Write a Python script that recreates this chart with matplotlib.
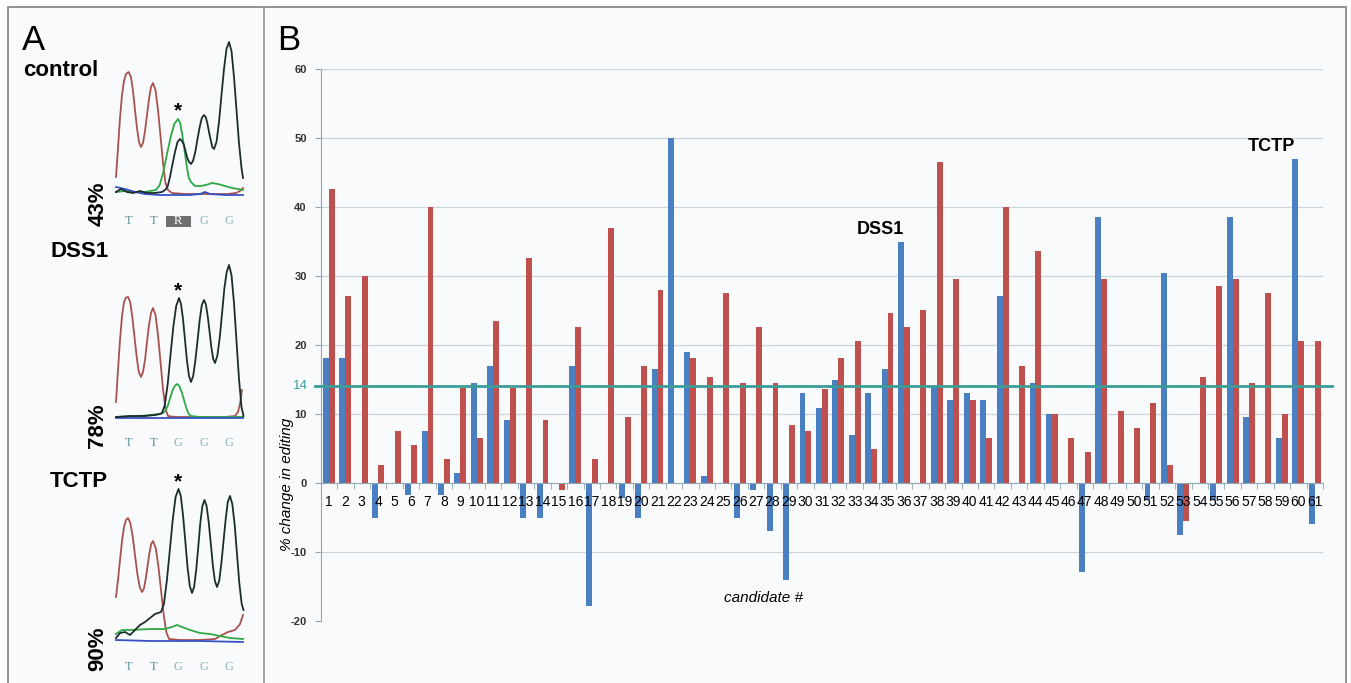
import numpy as np
import matplotlib
matplotlib.use("Agg")
import matplotlib.pyplot as plt
from matplotlib.patches import Rectangle
from matplotlib.transforms import blended_transform_factory

W, H = 1351, 683

# ---- panel B data: % change in editing per candidate (NaN = no bar)
candidates = list(range(1, 62))
blue_vals = [18.1, 18.1, np.nan, -5.0, np.nan, -1.8, 7.5, -1.8, 1.4, 14.5,
             17.0, 9.1, -5.0, -5.0, np.nan, 17.0, -17.8, np.nan, -2.2, -5.0,
             16.5, 50.0, 19.0, 1.0, np.nan, -5.0, -1.0, -7.0, -14.0, 13.0,
             10.9, 14.9, 7.0, 13.0, 16.5, 35.0, np.nan, 14.0, 12.0, 13.0,
             12.0, 27.1, np.nan, 14.5, 10.0, np.nan, -12.9, 38.6, np.nan, np.nan,
             -2.5, 30.5, -7.5, np.nan, -2.5, 38.6, 9.5, np.nan, 6.5, 47.0,
             -5.9]
red_vals = [42.6, 27.1, 30.0, 2.6, 7.5, 5.5, 40.0, 3.5, 13.8, 6.5,
            23.5, 13.8, 32.6, 9.1, -1.0, 22.6, 3.5, 37.0, 9.5, 17.0,
            28.0, np.nan, 18.1, 15.4, 27.5, 14.5, 22.6, 14.5, 8.4, 7.5,
            13.6, 18.1, 20.6, 5.0, 24.6, 22.6, 25.1, 46.5, 29.6, 12.0,
            6.5, 40.0, 17.0, 33.6, 10.0, 6.5, 4.5, 29.6, 10.5, 8.0,
            11.6, 2.6, -5.5, 15.4, 28.5, 29.6, 14.5, 27.5, 10.0, 20.6,
            20.6]
threshold = 14
y_ticks = [-20, -10, 0, 10, 20, 30, 40, 50, 60]
highlight_names = ["DSS1", "TCTP"]
highlight_idx = [36, 60]

# ---- panel A data: chromatogram traces (scan position, signal height)
bases_ctrl = ["T", "T", "R", "G", "G"]
bases_edit = ["T", "T", "G", "G", "G"]
base_scan = [13, 38, 62, 88, 113]

ctrl_red_x = [0, 2, 4, 6, 8, 10, 12.5, 15, 17, 19, 21, 23, 25, 27, 29, 31, 33, 35, 37, 39.5, 42, 44.5, 47, 49.5, 52, 56, 69, 84, 99, 112, 120, 124, 127]
ctrl_red_y = [19, 48, 78, 101, 115, 122, 124, 119, 105, 86, 68, 54, 49, 53, 65, 81, 97, 109, 113, 106, 86, 60, 33, 13, 6, 3, 2, 2, 2, 2, 3, 5, 8]
ctrl_blk_x = [0, 5, 11, 17, 24, 31, 39, 46, 49, 51.5, 54, 56.5, 59, 61.5, 64, 66, 68, 69.5, 71.3, 73, 75, 77, 79.3, 81.5, 83.7, 85.8, 88, 89.7, 91.3, 93, 94.7, 96.3, 98, 100.5, 103, 105.5, 108, 110.5, 113, 115.5, 118, 120.5, 123, 125.5, 127]
ctrl_blk_y = [4, 7, 4, 3, 5, 3, 3, 4, 6, 9, 19, 32, 44, 54, 57, 55, 51, 45, 38, 34, 32, 35, 44, 57, 69, 78, 81, 79, 73, 64, 56, 49, 47, 54, 74, 101, 127, 147, 154, 145, 119, 86, 53, 28, 18]
ctrl_grn_x = [0, 9, 19, 29, 34, 40, 43.7, 47.3, 51, 54.7, 58.3, 62, 64.2, 66.3, 68.5, 70.7, 72.8, 75, 79, 84, 90, 96, 102, 109, 116, 122, 127]
ctrl_grn_y = [4, 5, 4, 4, 5, 6, 11, 24, 42, 59, 72, 77, 73, 61, 46, 30, 18, 14, 10, 10, 11, 13, 12, 10, 8, 7, 6]
ctrl_blu_x = [0, 9, 19, 29, 44, 59, 74, 84, 89, 94, 109, 127]
ctrl_blu_y = [9, 7, 4, 2, 1, 1, 1, 2, 4, 2, 1, 1]

dss_red_x = [0, 2, 4, 6, 8, 10, 12, 14.2, 16.3, 18.5, 20.7, 22.8, 25, 27, 29, 31, 33, 35, 37, 39.5, 42, 44.5, 47, 49.5, 52, 59, 84, 109, 119, 122, 124, 126]
dss_red_y = [16, 48, 78, 102, 116, 120.5, 121, 116, 101, 81, 61, 46, 41, 46, 58, 76, 93, 105, 110, 103, 83, 56, 29, 9, 2, 1, 1, 1, 2, 6, 14, 28]
dss_blk_x = [0, 14, 29, 39, 44, 46, 48.8, 51.7, 54.5, 57.3, 60.2, 63, 65, 67, 69, 71, 73, 75, 77.2, 79.3, 81.5, 83.7, 85.8, 88, 89.8, 91.7, 93.5, 95.3, 97.2, 99, 101.3, 103.7, 106, 108.3, 110.7, 113, 115.5, 118, 120.5, 123, 125.5, 127.5]
dss_blk_y = [1, 2, 2, 3, 4, 5, 13, 34, 63, 91, 112, 120, 114, 99, 78, 57, 42, 36, 42, 57, 77, 98, 113, 118, 114, 102, 87, 71, 59, 55, 62, 80, 104, 129, 146, 153, 143, 115, 77, 39, 11, 2]
dss_grn_x = [0, 24, 44, 47, 49.3, 51.7, 54, 56.3, 58.7, 61, 63.3, 65.7, 68, 70.3, 72.7, 75, 84, 127]
dss_grn_y = [1, 2, 4, 5, 7, 12, 19.5, 27, 32, 34, 32, 26, 18, 10, 4, 2, 1, 1]
dss_blu_x = [0, 127]
dss_blu_y = [0, 0]

tctp_red_x = [0, 2, 4, 6, 8, 10, 12, 14.3, 16.7, 19, 21.3, 23.7, 26, 27.8, 29.7, 31.5, 33.3, 35.2, 37, 39.7, 42.3, 45, 47.7, 50.3, 53, 64, 84, 99, 106, 112, 119, 124, 127]
tctp_red_y = [44, 61, 81, 100, 114, 121, 123, 118, 104.5, 86, 67.5, 54, 49, 52, 62, 74.5, 87, 97, 100, 93, 75.5, 51, 26.5, 9, 2, 1, 1, 2, 6, 9, 11, 17, 26]
tctp_blk_x = [0, 4, 9, 14, 19, 24, 29, 34, 39, 45, 47.9, 50.8, 53.8, 56.7, 59.6, 62.5, 64.8, 67, 69.3, 71.5, 73.8, 76, 78.1, 80.2, 82.3, 84.3, 86.4, 88.5, 90.6, 92.7, 94.8, 96.8, 98.9, 101, 103.2, 105.3, 107.5, 109.7, 111.8, 114, 116.3, 118.7, 121, 123.3, 125.7, 127.5]
tctp_blk_y = [3, 8, 9, 6, 11, 16, 19, 23, 27, 29, 37, 60, 90.5, 121, 144, 152, 145, 126, 100, 74, 55, 48, 54, 71, 94.5, 118, 135, 141, 135, 119, 97.5, 76, 60, 54, 60, 77, 99.5, 122, 139, 145, 137, 116, 87, 58, 37, 31]
tctp_grn_x = [0, 6, 14, 34, 49, 56, 61, 66, 74, 84, 94, 104, 114, 127]
tctp_grn_y = [7, 11, 11, 12, 12, 14, 16, 14, 11, 8, 7, 5, 3, 2]
tctp_blu_x = [0, 34, 84, 127]
tctp_blu_y = [1, 0, 0, -1]

BLUE = "#4a7fc1"
RED = "#c0504d"
TEAL = "#3a9d97"
GRID = "#c9d6de"
SPINE = "#8fa6b4"


def fx(px):
    return px / W


def fy(py):
    return 1 - py / H


fig = plt.figure(figsize=(W / 100, H / 100), dpi=100, facecolor="white")
plt.rcParams["font.family"] = ["Liberation Sans", "DejaVu Sans"]

# background frame and panel divider
bg = fig.add_axes([0, 0, 1, 1], zorder=-5)
bg.set_xlim(0, W)
bg.set_ylim(H, 0)
bg.axis("off")
bg.add_patch(Rectangle((8, 7), 1338, 690, facecolor="#f9fafc",
                       edgecolor="#8a8a8a", linewidth=1.3))
bg.plot([264, 264], [7, H], color="#9a9a9a", linewidth=1.3)

# ---------------- panel A ----------------
fig.text(fx(22), fy(50), "A", fontsize=25, va="baseline", ha="left")
fig.text(fx(23), fy(76.5), "control", fontsize=16, fontweight="bold", va="baseline")
fig.text(fx(50), fy(257), "DSS1", fontsize=16, fontweight="bold", va="baseline")
fig.text(fx(50), fy(487), "TCTP", fontsize=16, fontweight="bold", va="baseline")

samples = [
    (196, "43%", bases_ctrl, 85,
     [(ctrl_red_x, ctrl_red_y), (ctrl_grn_x, ctrl_grn_y),
      (ctrl_blu_x, ctrl_blu_y), (ctrl_blk_x, ctrl_blk_y)]),
    (418, "78%", bases_edit, 127,
     [(dss_red_x, dss_red_y), (dss_grn_x, dss_grn_y),
      (dss_blu_x, dss_blu_y), (dss_blk_x, dss_blk_y)]),
    (641, "90%", bases_edit, 159,
     [(tctp_red_x, tctp_red_y), (tctp_grn_x, tctp_grn_y),
      (tctp_blu_x, tctp_blu_y), (tctp_blk_x, tctp_blk_y)]),
]
trace_colors = ["#a8524e", "#2fa846", "#3552c4", "#1d2d2d"]

for base_py, pct, bases, star_y, traces in samples:
    a = fig.add_axes([fx(110), fy(base_py + 5), 140 / W, 175 / H])
    a.set_xlim(-6, 134)
    a.set_ylim(-5, 170)
    a.axis("off")
    for (tx, ty), col in zip(traces, trace_colors):
        a.plot(tx, ty, color=col, linewidth=1.3, solid_joinstyle="round")
    a.text(62, star_y, "*", fontsize=15, fontweight="bold", ha="center",
           va="center")
    for b, s in zip(bases, base_scan):
        if b == "R":
            a.add_patch(Rectangle((s - 12, -31.5), 25, 11.5, facecolor="#707070",
                                  edgecolor="none", clip_on=False))
            col = "white"
        elif b == "T":
            col = "#5b8d9c"
        else:
            col = "#8eb2be"
        a.text(s, -25.5, b, fontsize=9, family="Liberation Serif", color=col,
               ha="center", va="center", clip_on=False)
    fig.text(fx(98), fy(base_py + 8), pct, fontsize=16, fontweight="bold",
             rotation=90, ha="center", va="center")

# ---------------- panel B ----------------
fig.text(fx(277), fy(50), "B", fontsize=25, va="baseline", ha="left")

ax = fig.add_axes([fx(320.7), fy(621), (1323 - 320.7) / W, (621 - 69) / H])
ax.set_facecolor("none")
x = np.array(candidates)
bw = 0.36
ax.bar(x - bw / 2, blue_vals, width=bw, color=BLUE, zorder=2)
ax.bar(x + bw / 2, red_vals, width=bw, color=RED, zorder=2)

ax.set_xlim(0.5, 61.5)
ax.set_ylim(-20, 60)
for v in y_ticks:
    if v != 0:
        ax.axhline(v, color=GRID, linewidth=0.9, zorder=0.5)
ax.set_axisbelow(False)

ax.set_yticks(y_ticks)
ax.set_yticklabels([str(v) for v in y_ticks], fontsize=8, fontweight="bold",
                   color="#333333")
ax.tick_params(axis="y", length=4, color=SPINE, pad=6)

ax.set_xticks(x)
ax.set_xticklabels([str(c) for c in candidates], fontsize=7.5,
                   fontweight="bold", color="#222222")
ax.set_xticks(np.arange(0.5, 62, 1), minor=True)
ax.tick_params(axis="x", which="major", length=0, pad=9)
ax.tick_params(axis="x", which="minor", length=4, color=SPINE)
ax.spines["bottom"].set_position(("data", 0))
ax.spines["bottom"].set_color(SPINE)
ax.spines["left"].set_color(SPINE)
ax.spines["top"].set_visible(False)
ax.spines["right"].set_visible(False)

ax.axhline(threshold, xmin=-0.006, xmax=1.009, color=TEAL, linewidth=2,
           zorder=3, clip_on=False)
trans = blended_transform_factory(ax.transAxes, ax.transData)
ax.text(-0.0127, threshold, str(threshold), transform=trans, color=TEAL,
        fontsize=9.5, ha="right", va="center")

label_offsets = [(-15, 9), (-17, 8.5)]
for name, idx, off in zip(highlight_names, highlight_idx, label_offsets):
    ax.annotate(name, (idx - bw / 2, blue_vals[idx - 1]), xytext=off,
                textcoords="offset points", ha="center", va="center",
                fontsize=13, fontweight="bold")

fig.text(fx(287), fy(484), "% change in editing", rotation=90, style="italic",
         fontsize=11, ha="center", va="center")
fig.text(fx(763), fy(598), "candidate #", style="italic", fontsize=11,
         ha="center", va="center")

fig.savefig("out.png", dpi=100, facecolor="white")
